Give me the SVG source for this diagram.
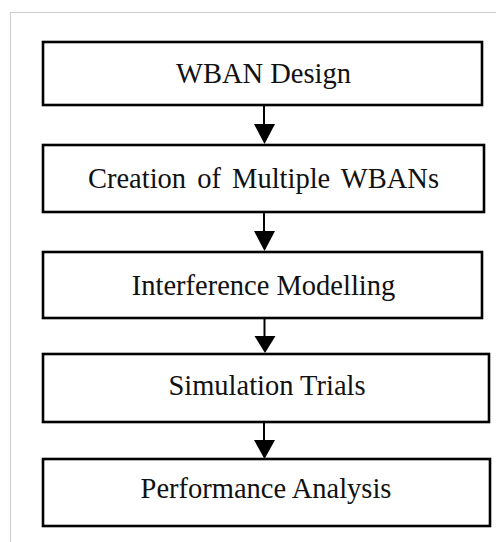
<svg xmlns="http://www.w3.org/2000/svg" width="496" height="542" viewBox="0 0 496 542">
<style>
.box{fill:#fff;stroke:#000;stroke-width:2.6}
.lbl{font-family:"Liberation Serif","Times New Roman",serif;font-size:28.5px;fill:#111;text-anchor:middle}
.conn{stroke:#000;stroke-width:2;fill:none}
.head{fill:#000}
</style>
<rect width="496" height="542" fill="#fff"/>
<path d="M10.5 542V12.5H496" fill="none" stroke="#cfcfcf" stroke-width="1.2"/>
<g id="n1"><rect class="box" x="43" y="42" width="439" height="63"/><text class="lbl" x="263.5" y="83">WBAN Design</text></g>
<g id="n2"><rect class="box" x="43" y="145" width="441" height="67"/><text class="lbl" x="263.5" y="188" word-spacing="4">Creation of Multiple WBANs</text></g>
<g id="n3"><rect class="box" x="43" y="252" width="439" height="66"/><text class="lbl" x="263.5" y="295">Interference Modelling</text></g>
<g id="n4"><rect class="box" x="43" y="354" width="446" height="68"/><text class="lbl" x="267" y="395">Simulation Trials</text></g>
<g id="n5"><rect class="box" x="43" y="459" width="447" height="67"/><text class="lbl" x="266" y="498">Performance Analysis</text></g>
<g id="connectors">
<path class="conn" d="M264 105V126"/><path class="head" d="M254 124H275L264.5 144Z"/>
<path class="conn" d="M264 212V233"/><path class="head" d="M254 231H275L264.5 251Z"/>
<path class="conn" d="M264.5 318V338"/><path class="head" d="M254.5 336H275.5L265 353Z"/>
<path class="conn" d="M264 422V442"/><path class="head" d="M254 440H275L264.5 459Z"/>
</g>
</svg>
